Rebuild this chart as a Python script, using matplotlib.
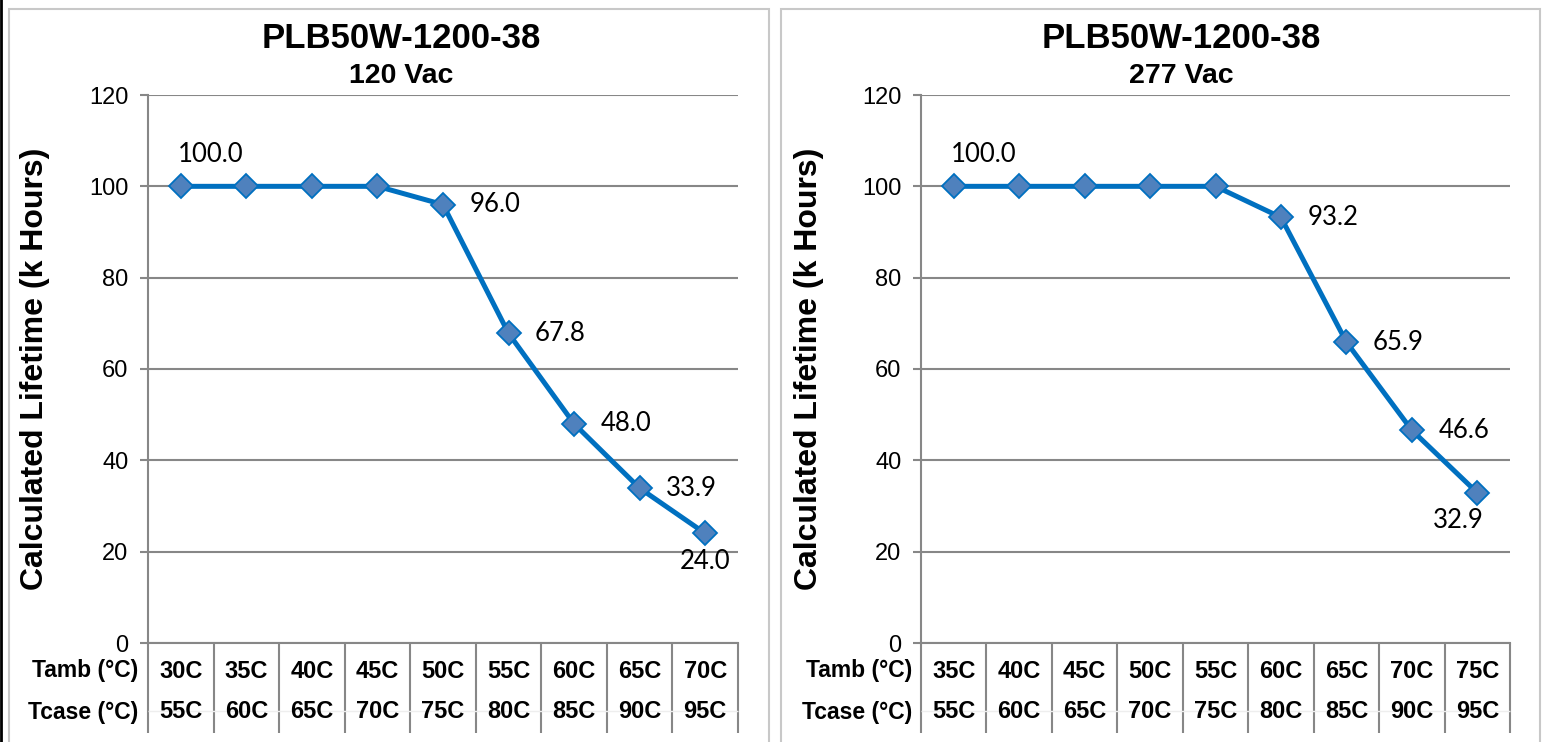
import numpy as np
import matplotlib
matplotlib.use("Agg")
import matplotlib.pyplot as plt
from matplotlib.patches import Rectangle
from matplotlib.lines import Line2D
import matplotlib.transforms as mtransforms

plt.rcParams['font.family'] = ['Liberation Sans', 'DejaVu Sans']

# data
title = "PLB50W-1200-38"
subtitle_120 = "120 Vac"
subtitle_277 = "277 Vac"
tamb_120 = ["30C", "35C", "40C", "45C", "50C", "55C", "60C", "65C", "70C"]
tcase_120 = ["55C", "60C", "65C", "70C", "75C", "80C", "85C", "90C", "95C"]
life_120 = [100.0, 100.0, 100.0, 100.0, 96.0, 67.8, 48.0, 33.9, 24.0]
tamb_277 = ["35C", "40C", "45C", "50C", "55C", "60C", "65C", "70C", "75C"]
tcase_277 = ["55C", "60C", "65C", "70C", "75C", "80C", "85C", "90C", "95C"]
life_277 = [100.0, 100.0, 100.0, 100.0, 100.0, 93.2, 65.9, 46.6, 32.9]

# which points get a value label, and where it sits
labels_120 = {0: 'above', 4: 'right', 5: 'right', 6: 'right', 7: 'right', 8: 'below'}
labels_277 = {0: 'above', 5: 'right', 6: 'right', 7: 'right', 8: 'below_left'}

LINE = "#0070C0"
MARK = "#4F81BD"
GRID = "#878787"

W, H = 1546, 742
fig = plt.figure(figsize=(W / 100, H / 100), dpi=100)


def px(x, y):
    return x / W, 1 - y / H


# panel borders
for x0, x1 in [(9, 769), (781, 1540)]:
    fig.patches.append(Rectangle(px(x0, 760), (x1 - x0) / W, (760 - 9) / H,
                                 transform=fig.transFigure, fill=False,
                                 edgecolor="#C8C8C8", linewidth=1.5))
fig.lines.append(Line2D([1 / W, 1 / W], [0, 1], transform=fig.transFigure,
                        color="black", linewidth=2))


def panel(ax_left, ax_right, sub, tamb, tcase, vals, labels, title_x, ylab_x, row_x):
    l, b = px(ax_left, 643)
    r, t = px(ax_right, 95)
    ax = fig.add_axes([l, b, r - l, t - b])
    x = np.arange(len(vals))
    ax.plot(x, vals, color=LINE, linewidth=3.6, marker='D', markersize=12,
            markerfacecolor=MARK, markeredgecolor=LINE, markeredgewidth=1.3,
            zorder=3, clip_on=False)
    ax.set_xlim(-0.5, len(vals) - 0.5)
    ax.set_ylim(0, 120)
    ax.set_yticks(range(0, 121, 20))
    ax.yaxis.grid(True, color=GRID, linewidth=1.5)
    ax.set_axisbelow(True)
    ax.set_xticks([])
    for s in ['top', 'right']:
        ax.spines[s].set_visible(False)
    for s in ['left', 'bottom']:
        ax.spines[s].set_color(GRID)
        ax.spines[s].set_linewidth(1.5)
    ax.tick_params(axis='y', length=6, width=1.5, color=GRID, labelsize=17, pad=8)

    for i, pos in labels.items():
        txt = f"{vals[i]:.1f}"
        if pos == 'above':
            off, ha, va = (-2, 14), 'left', 'bottom'
        elif pos == 'right':
            off, ha, va = (19, 0), 'left', 'center'
        elif pos == 'below':
            off, ha, va = (0, -11), 'center', 'top'
        else:
            off, ha, va = (-14, -11), 'center', 'top'
        ax.annotate(txt, (x[i], vals[i]), xytext=off, textcoords='offset points',
                    ha=ha, va=va, fontsize=18.5, family=['Lato', 'DejaVu Sans'])

    # data table below the axis
    trans = mtransforms.blended_transform_factory(ax.transData, ax.transAxes)
    bot = -90 / 548
    ax.vlines(np.arange(len(vals) + 1) - 0.5, bot, 0, transform=trans,
              colors=GRID, linewidth=1.5, clip_on=False)
    ax.hlines(-68 / 548, -0.5, len(vals) - 0.5, transform=trans,
              colors="#EEEEEE", linewidth=1, clip_on=False)
    y1 = -29 / 548
    y2 = -69 / 548
    for i in range(len(vals)):
        ax.text(x[i], y1, tamb[i], transform=trans, ha='center', va='center',
                fontsize=17, fontweight='bold')
        ax.text(x[i], y2, tcase[i], transform=trans, ha='center', va='center',
                fontsize=17, fontweight='bold')
    fig.text(*px(row_x, 671), "Tamb (°C)", ha='right', va='center',
             fontsize=16.5, fontweight='bold')
    fig.text(*px(row_x, 712), "Tcase (°C)", ha='right', va='center',
             fontsize=16.5, fontweight='bold')

    fig.text(*px(title_x, 38), title, ha='center', va='center',
             fontsize=25, fontweight='bold')
    fig.text(*px(title_x, 76), sub, ha='center', va='center',
             fontsize=20.5, fontweight='bold')
    fig.text(*px(ylab_x, 369), "Calculated Lifetime (k Hours)", rotation=90,
             ha='center', va='center', fontsize=23, fontweight='bold')
    return ax


panel(148, 738, subtitle_120, tamb_120, tcase_120, life_120, labels_120, 401, 35, 138)
panel(921, 1510, subtitle_277, tamb_277, tcase_277, life_277, labels_277, 1181, 809, 912)

fig.savefig("out.png", dpi=100)
